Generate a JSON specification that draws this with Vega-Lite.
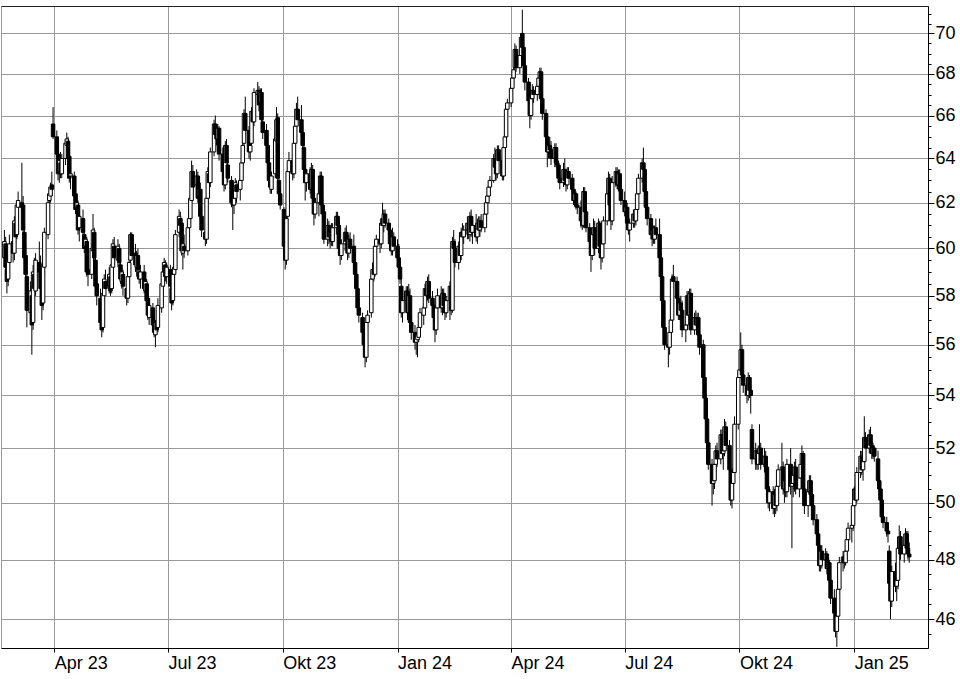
{
"$schema":"https://vega.github.io/schema/vega-lite/v6.json",
"width":927,"height":642,
"autosize":{"type":"none"},
"padding":{"left":1,"top":6,"right":32,"bottom":31},
"background":"white",
"config":{"view":{"stroke":"#999","strokeWidth":1},"font":"Liberation Sans"},
"resolve":{"axis":{"x":"independent"}},
"data":{"values":[
{"d":"2023-02-20","o":59.6,"h":60.8,"l":59.2,"c":60.3},
{"d":"2023-02-21","o":60.2,"h":60.5,"l":58.9,"c":59.2},
{"d":"2023-02-22","o":59.1,"h":59.4,"l":58.1,"c":58.6},
{"d":"2023-02-23","o":58.7,"h":59.8,"l":58.4,"c":59.5},
{"d":"2023-02-24","o":59.4,"h":60.6,"l":59.0,"c":60.2},
{"d":"2023-02-27","o":60.3,"h":60.9,"l":59.4,"c":59.8},
{"d":"2023-02-28","o":59.8,"h":61.4,"l":59.5,"c":61.2},
{"d":"2023-03-01","o":61.1,"h":61.8,"l":60.2,"c":60.5},
{"d":"2023-03-02","o":60.6,"h":62.1,"l":60.4,"c":61.9},
{"d":"2023-03-03","o":61.8,"h":62.5,"l":61.2,"c":62.1},
{"d":"2023-03-06","o":62.0,"h":63.8,"l":61.6,"c":61.8},
{"d":"2023-03-07","o":61.9,"h":62.3,"l":60.6,"c":60.8},
{"d":"2023-03-08","o":60.7,"h":61.0,"l":59.4,"c":59.6},
{"d":"2023-03-09","o":59.7,"h":60.2,"l":58.6,"c":58.9},
{"d":"2023-03-10","o":58.8,"h":59.1,"l":56.7,"c":57.4},
{"d":"2023-03-13","o":57.3,"h":58.6,"l":56.9,"c":58.2},
{"d":"2023-03-14","o":58.0,"h":58.4,"l":55.6,"c":56.8},
{"d":"2023-03-15","o":56.9,"h":59.3,"l":56.6,"c":59.0},
{"d":"2023-03-16","o":58.9,"h":59.6,"l":57.9,"c":58.3},
{"d":"2023-03-17","o":58.2,"h":59.8,"l":58.0,"c":59.5},
{"d":"2023-03-20","o":59.4,"h":60.3,"l":58.6,"c":59.0},
{"d":"2023-03-21","o":59.1,"h":59.7,"l":58.0,"c":58.3},
{"d":"2023-03-22","o":58.4,"h":58.9,"l":57.0,"c":57.6},
{"d":"2023-03-23","o":57.7,"h":59.6,"l":57.4,"c":59.3},
{"d":"2023-03-24","o":59.2,"h":60.9,"l":58.8,"c":60.7},
{"d":"2023-03-27","o":60.6,"h":62.2,"l":60.4,"c":62.0},
{"d":"2023-03-28","o":62.1,"h":62.7,"l":61.7,"c":62.4},
{"d":"2023-03-29","o":62.3,"h":62.9,"l":62.0,"c":62.7},
{"d":"2023-03-30","o":62.8,"h":63.4,"l":62.3,"c":62.6},
{"d":"2023-03-31","o":65.6,"h":66.4,"l":64.9,"c":65.0},
{"d":"2023-04-03","o":65.0,"h":65.3,"l":64.0,"c":64.2},
{"d":"2023-04-04","o":64.2,"h":64.6,"l":63.0,"c":63.3},
{"d":"2023-04-05","o":63.4,"h":64.1,"l":62.9,"c":63.9},
{"d":"2023-04-06","o":63.8,"h":64.3,"l":63.1,"c":63.3},
{"d":"2023-04-07","o":63.3,"h":64.2,"l":63.1,"c":64.0},
{"d":"2023-04-10","o":64.0,"h":64.9,"l":63.7,"c":64.7},
{"d":"2023-04-11","o":64.6,"h":65.2,"l":64.2,"c":64.9},
{"d":"2023-04-12","o":64.8,"h":65.0,"l":63.8,"c":64.0},
{"d":"2023-04-13","o":64.1,"h":64.4,"l":62.9,"c":63.1},
{"d":"2023-04-14","o":63.2,"h":63.6,"l":62.6,"c":63.3},
{"d":"2023-04-17","o":63.2,"h":63.4,"l":62.1,"c":62.3},
{"d":"2023-04-18","o":62.4,"h":62.9,"l":61.5,"c":61.7},
{"d":"2023-04-19","o":61.8,"h":62.3,"l":61.3,"c":62.0},
{"d":"2023-04-20","o":61.9,"h":62.1,"l":60.6,"c":60.8},
{"d":"2023-04-21","o":60.9,"h":61.6,"l":60.3,"c":61.4},
{"d":"2023-04-24","o":61.3,"h":61.7,"l":60.5,"c":60.7},
{"d":"2023-04-25","o":60.6,"h":61.0,"l":59.8,"c":60.0},
{"d":"2023-04-26","o":60.1,"h":60.6,"l":59.4,"c":60.4},
{"d":"2023-04-27","o":60.3,"h":60.5,"l":58.8,"c":59.0},
{"d":"2023-04-28","o":59.1,"h":59.5,"l":58.4,"c":58.9},
{"d":"2023-05-01","o":58.9,"h":60.2,"l":58.7,"c":60.0},
{"d":"2023-05-02","o":59.9,"h":61.5,"l":59.5,"c":60.8},
{"d":"2023-05-03","o":60.7,"h":60.9,"l":59.4,"c":59.6},
{"d":"2023-05-04","o":59.5,"h":59.8,"l":58.2,"c":58.4},
{"d":"2023-05-05","o":58.5,"h":58.8,"l":57.6,"c":58.0},
{"d":"2023-05-08","o":57.9,"h":58.3,"l":56.8,"c":56.9},
{"d":"2023-05-09","o":56.9,"h":57.3,"l":56.3,"c":56.6},
{"d":"2023-05-10","o":56.7,"h":58.3,"l":56.5,"c":58.1},
{"d":"2023-05-11","o":58.0,"h":58.9,"l":57.8,"c":58.7},
{"d":"2023-05-12","o":58.6,"h":59.1,"l":58.0,"c":58.3},
{"d":"2023-05-15","o":58.4,"h":59.2,"l":58.1,"c":58.9},
{"d":"2023-05-16","o":58.8,"h":59.0,"l":58.0,"c":58.2},
{"d":"2023-05-17","o":58.3,"h":59.5,"l":58.1,"c":59.3},
{"d":"2023-05-18","o":59.2,"h":60.4,"l":59.0,"c":60.2},
{"d":"2023-05-19","o":60.1,"h":60.5,"l":59.3,"c":59.6},
{"d":"2023-05-22","o":59.5,"h":60.4,"l":59.2,"c":60.1},
{"d":"2023-05-23","o":60.0,"h":60.2,"l":59.2,"c":59.4},
{"d":"2023-05-24","o":59.3,"h":59.5,"l":58.5,"c":58.7},
{"d":"2023-05-25","o":58.6,"h":59.2,"l":58.3,"c":59.0},
{"d":"2023-05-26","o":58.9,"h":59.1,"l":58.0,"c":58.4},
{"d":"2023-05-29","o":58.3,"h":58.5,"l":57.6,"c":57.9},
{"d":"2023-05-30","o":57.9,"h":59.0,"l":57.7,"c":58.8},
{"d":"2023-05-31","o":58.8,"h":59.6,"l":58.5,"c":59.4},
{"d":"2023-06-01","o":59.5,"h":60.7,"l":59.4,"c":60.6},
{"d":"2023-06-02","o":60.6,"h":60.7,"l":59.5,"c":59.7},
{"d":"2023-06-05","o":59.8,"h":60.2,"l":59.0,"c":59.3},
{"d":"2023-06-06","o":59.2,"h":59.9,"l":58.8,"c":59.7},
{"d":"2023-06-07","o":59.7,"h":60.0,"l":58.9,"c":59.1},
{"d":"2023-06-08","o":59.0,"h":59.4,"l":58.5,"c":58.7},
{"d":"2023-06-09","o":58.7,"h":59.3,"l":58.3,"c":59.0},
{"d":"2023-06-12","o":59.0,"h":59.3,"l":58.1,"c":58.3},
{"d":"2023-06-13","o":58.2,"h":58.8,"l":57.8,"c":58.6},
{"d":"2023-06-14","o":58.5,"h":58.7,"l":57.6,"c":57.8},
{"d":"2023-06-15","o":57.9,"h":58.2,"l":57.0,"c":57.2},
{"d":"2023-06-16","o":57.1,"h":57.9,"l":56.8,"c":57.6},
{"d":"2023-06-19","o":57.5,"h":57.7,"l":56.6,"c":56.8},
{"d":"2023-06-20","o":56.8,"h":57.2,"l":56.3,"c":56.5},
{"d":"2023-06-21","o":56.4,"h":57.0,"l":55.9,"c":56.9},
{"d":"2023-06-22","o":56.9,"h":57.4,"l":56.4,"c":56.6},
{"d":"2023-06-23","o":56.7,"h":57.9,"l":56.5,"c":57.6},
{"d":"2023-06-26","o":57.5,"h":58.7,"l":57.3,"c":58.5},
{"d":"2023-06-27","o":58.4,"h":59.2,"l":58.0,"c":59.0},
{"d":"2023-06-28","o":59.0,"h":59.6,"l":58.6,"c":59.4},
{"d":"2023-06-29","o":59.3,"h":59.5,"l":58.6,"c":58.8},
{"d":"2023-06-30","o":58.8,"h":59.4,"l":58.5,"c":59.2},
{"d":"2023-07-03","o":59.1,"h":59.3,"l":58.2,"c":58.4},
{"d":"2023-07-04","o":58.3,"h":58.5,"l":57.4,"c":57.7},
{"d":"2023-07-05","o":57.8,"h":59.1,"l":57.6,"c":58.9},
{"d":"2023-07-06","o":58.9,"h":59.4,"l":58.4,"c":59.2},
{"d":"2023-07-07","o":59.1,"h":60.8,"l":58.9,"c":60.6},
{"d":"2023-07-10","o":60.7,"h":61.7,"l":60.5,"c":61.4},
{"d":"2023-07-11","o":61.3,"h":61.6,"l":60.6,"c":61.0},
{"d":"2023-07-12","o":61.1,"h":61.3,"l":59.7,"c":59.9},
{"d":"2023-07-13","o":59.8,"h":60.4,"l":59.1,"c":60.2},
{"d":"2023-07-14","o":60.1,"h":60.6,"l":59.6,"c":59.9},
{"d":"2023-07-17","o":59.9,"h":61.1,"l":59.7,"c":60.9},
{"d":"2023-07-18","o":60.9,"h":61.5,"l":60.5,"c":61.3},
{"d":"2023-07-19","o":61.3,"h":62.4,"l":61.1,"c":62.2},
{"d":"2023-07-20","o":62.1,"h":63.9,"l":61.9,"c":63.4},
{"d":"2023-07-21","o":63.4,"h":63.7,"l":62.5,"c":62.7},
{"d":"2023-07-24","o":62.8,"h":63.5,"l":62.3,"c":63.2},
{"d":"2023-07-25","o":63.2,"h":63.4,"l":62.0,"c":62.2},
{"d":"2023-07-26","o":62.3,"h":62.8,"l":61.6,"c":62.6},
{"d":"2023-07-27","o":62.6,"h":62.9,"l":61.2,"c":61.4},
{"d":"2023-07-28","o":61.4,"h":61.8,"l":60.5,"c":60.8},
{"d":"2023-07-31","o":60.7,"h":61.0,"l":60.1,"c":60.4},
{"d":"2023-08-01","o":60.4,"h":62.4,"l":60.2,"c":62.2},
{"d":"2023-08-02","o":62.2,"h":63.6,"l":62.0,"c":63.4},
{"d":"2023-08-03","o":63.3,"h":63.6,"l":62.6,"c":62.9},
{"d":"2023-08-04","o":62.9,"h":64.5,"l":62.7,"c":64.3},
{"d":"2023-08-07","o":64.3,"h":65.8,"l":64.1,"c":65.6},
{"d":"2023-08-08","o":65.6,"h":66.0,"l":64.9,"c":65.1},
{"d":"2023-08-09","o":65.1,"h":65.5,"l":64.6,"c":64.9},
{"d":"2023-08-10","o":64.9,"h":65.6,"l":64.4,"c":65.4},
{"d":"2023-08-11","o":65.4,"h":65.5,"l":63.9,"c":64.2},
{"d":"2023-08-14","o":64.2,"h":64.5,"l":63.2,"c":63.4},
{"d":"2023-08-15","o":63.4,"h":63.7,"l":62.5,"c":62.8},
{"d":"2023-08-16","o":62.8,"h":64.8,"l":62.6,"c":64.6},
{"d":"2023-08-17","o":64.6,"h":64.9,"l":63.6,"c":63.8},
{"d":"2023-08-18","o":63.7,"h":63.9,"l":62.9,"c":63.1},
{"d":"2023-08-21","o":63.0,"h":63.2,"l":61.8,"c":62.0},
{"d":"2023-08-22","o":62.0,"h":62.3,"l":60.8,"c":61.9},
{"d":"2023-08-23","o":61.9,"h":62.4,"l":61.5,"c":62.2},
{"d":"2023-08-24","o":62.2,"h":63.1,"l":61.9,"c":62.9},
{"d":"2023-08-25","o":62.8,"h":63.0,"l":62.0,"c":62.5},
{"d":"2023-08-28","o":62.6,"h":63.2,"l":62.1,"c":63.0},
{"d":"2023-08-29","o":63.0,"h":64.1,"l":62.8,"c":63.8},
{"d":"2023-08-30","o":63.8,"h":64.8,"l":63.5,"c":64.6},
{"d":"2023-08-31","o":64.7,"h":66.3,"l":64.5,"c":66.1},
{"d":"2023-09-01","o":66.1,"h":66.9,"l":65.1,"c":65.3},
{"d":"2023-09-04","o":65.3,"h":65.5,"l":64.0,"c":64.3},
{"d":"2023-09-05","o":64.3,"h":64.8,"l":63.9,"c":64.6},
{"d":"2023-09-06","o":64.7,"h":66.4,"l":64.5,"c":66.2},
{"d":"2023-09-07","o":66.2,"h":66.8,"l":65.4,"c":65.7},
{"d":"2023-09-08","o":65.7,"h":67.3,"l":65.5,"c":67.1},
{"d":"2023-09-11","o":67.0,"h":67.6,"l":66.6,"c":67.2},
{"d":"2023-09-12","o":67.2,"h":67.4,"l":66.2,"c":66.5},
{"d":"2023-09-13","o":66.6,"h":67.3,"l":66.3,"c":67.1},
{"d":"2023-09-14","o":67.1,"h":67.3,"l":65.6,"c":65.8},
{"d":"2023-09-15","o":65.7,"h":66.1,"l":64.9,"c":65.2},
{"d":"2023-09-18","o":65.3,"h":65.6,"l":64.4,"c":64.6},
{"d":"2023-09-19","o":64.6,"h":64.9,"l":63.6,"c":63.8},
{"d":"2023-09-20","o":63.8,"h":64.1,"l":62.8,"c":63.0},
{"d":"2023-09-21","o":63.0,"h":63.3,"l":62.4,"c":62.7},
{"d":"2023-09-22","o":62.6,"h":63.4,"l":62.4,"c":63.2},
{"d":"2023-09-25","o":63.3,"h":65.2,"l":63.1,"c":64.9},
{"d":"2023-09-26","o":64.8,"h":66.4,"l":64.5,"c":65.8},
{"d":"2023-09-27","o":65.9,"h":66.1,"l":62.9,"c":63.1},
{"d":"2023-09-28","o":63.0,"h":63.2,"l":62.1,"c":62.4},
{"d":"2023-09-29","o":62.4,"h":62.7,"l":61.7,"c":61.9},
{"d":"2023-10-02","o":61.7,"h":61.8,"l":59.9,"c":60.1},
{"d":"2023-10-03","o":60.1,"h":60.3,"l":59.1,"c":59.5},
{"d":"2023-10-04","o":59.5,"h":61.6,"l":59.3,"c":61.3},
{"d":"2023-10-05","o":61.4,"h":63.6,"l":61.2,"c":63.4},
{"d":"2023-10-06","o":63.4,"h":64.3,"l":62.0,"c":63.9},
{"d":"2023-10-09","o":63.9,"h":64.2,"l":63.0,"c":63.3},
{"d":"2023-10-10","o":63.3,"h":64.9,"l":63.1,"c":64.7},
{"d":"2023-10-11","o":64.7,"h":65.7,"l":64.4,"c":65.5},
{"d":"2023-10-12","o":65.5,"h":66.6,"l":65.2,"c":66.3},
{"d":"2023-10-13","o":66.3,"h":66.9,"l":65.5,"c":65.8},
{"d":"2023-10-16","o":65.8,"h":66.5,"l":65.0,"c":65.2},
{"d":"2023-10-17","o":65.2,"h":65.5,"l":64.4,"c":64.6},
{"d":"2023-10-18","o":64.5,"h":64.7,"l":63.3,"c":63.5},
{"d":"2023-10-19","o":63.5,"h":63.7,"l":62.1,"c":62.9},
{"d":"2023-10-20","o":62.9,"h":63.5,"l":62.5,"c":63.3},
{"d":"2023-10-23","o":63.3,"h":63.6,"l":62.4,"c":62.6},
{"d":"2023-10-24","o":62.6,"h":63.8,"l":62.4,"c":63.5},
{"d":"2023-10-25","o":63.5,"h":63.7,"l":62.0,"c":62.2},
{"d":"2023-10-26","o":62.2,"h":62.5,"l":61.0,"c":61.5},
{"d":"2023-10-27","o":61.5,"h":62.2,"l":61.3,"c":62.0},
{"d":"2023-10-30","o":62.0,"h":62.6,"l":61.4,"c":62.4},
{"d":"2023-10-31","o":62.4,"h":63.4,"l":62.1,"c":63.2},
{"d":"2023-11-01","o":63.2,"h":63.4,"l":61.7,"c":61.9},
{"d":"2023-11-02","o":61.9,"h":62.2,"l":61.2,"c":61.5},
{"d":"2023-11-03","o":61.6,"h":61.8,"l":60.2,"c":60.4},
{"d":"2023-11-06","o":60.4,"h":61.3,"l":60.1,"c":61.0},
{"d":"2023-11-07","o":61.0,"h":61.2,"l":60.2,"c":60.5},
{"d":"2023-11-08","o":60.5,"h":60.9,"l":60.0,"c":60.7},
{"d":"2023-11-09","o":60.8,"h":61.1,"l":60.1,"c":60.3},
{"d":"2023-11-10","o":60.3,"h":61.1,"l":60.1,"c":60.9},
{"d":"2023-11-13","o":60.9,"h":61.6,"l":60.6,"c":61.4},
{"d":"2023-11-14","o":61.4,"h":61.6,"l":60.8,"c":61.0},
{"d":"2023-11-15","o":61.0,"h":61.2,"l":59.8,"c":60.0},
{"d":"2023-11-16","o":60.0,"h":60.3,"l":59.3,"c":59.7},
{"d":"2023-11-17","o":59.7,"h":60.4,"l":59.5,"c":60.2},
{"d":"2023-11-20","o":60.2,"h":60.9,"l":59.9,"c":60.7},
{"d":"2023-11-21","o":60.7,"h":61.0,"l":60.1,"c":60.3},
{"d":"2023-11-22","o":60.3,"h":60.5,"l":59.5,"c":59.8},
{"d":"2023-11-23","o":59.8,"h":60.6,"l":59.6,"c":60.4},
{"d":"2023-11-24","o":60.4,"h":60.7,"l":59.8,"c":60.0},
{"d":"2023-11-27","o":60.1,"h":60.6,"l":59.2,"c":59.4},
{"d":"2023-11-28","o":59.4,"h":59.7,"l":58.7,"c":58.9},
{"d":"2023-11-29","o":58.9,"h":59.1,"l":58.0,"c":58.3},
{"d":"2023-11-30","o":58.3,"h":58.6,"l":57.3,"c":57.5},
{"d":"2023-12-01","o":57.5,"h":57.9,"l":56.9,"c":57.2},
{"d":"2023-12-04","o":57.1,"h":57.3,"l":56.3,"c":56.5},
{"d":"2023-12-05","o":56.5,"h":56.8,"l":55.8,"c":56.0},
{"d":"2023-12-06","o":56.0,"h":56.4,"l":55.1,"c":55.5},
{"d":"2023-12-07","o":55.5,"h":57.1,"l":55.3,"c":56.9},
{"d":"2023-12-08","o":56.9,"h":57.4,"l":56.4,"c":57.2},
{"d":"2023-12-11","o":57.3,"h":58.9,"l":57.1,"c":58.7},
{"d":"2023-12-12","o":58.7,"h":59.4,"l":58.3,"c":59.1},
{"d":"2023-12-13","o":59.1,"h":59.7,"l":58.6,"c":58.9},
{"d":"2023-12-14","o":58.9,"h":60.3,"l":58.8,"c":60.1},
{"d":"2023-12-15","o":60.1,"h":60.6,"l":59.6,"c":60.4},
{"d":"2023-12-18","o":60.4,"h":60.7,"l":59.8,"c":60.2},
{"d":"2023-12-19","o":60.2,"h":61.3,"l":60.0,"c":61.1},
{"d":"2023-12-20","o":61.3,"h":62.0,"l":60.8,"c":61.0},
{"d":"2023-12-21","o":61.0,"h":61.7,"l":60.7,"c":61.5},
{"d":"2023-12-22","o":61.5,"h":61.7,"l":60.9,"c":61.1},
{"d":"2023-12-25","o":61.1,"h":61.3,"l":60.6,"c":60.8},
{"d":"2023-12-26","o":60.8,"h":61.0,"l":60.0,"c":60.2},
{"d":"2023-12-27","o":60.2,"h":60.5,"l":59.7,"c":59.9},
{"d":"2023-12-28","o":59.9,"h":60.9,"l":59.7,"c":60.5},
{"d":"2023-12-29","o":60.5,"h":60.7,"l":59.9,"c":60.1},
{"d":"2024-01-01","o":60.1,"h":60.4,"l":59.4,"c":59.6},
{"d":"2024-01-02","o":59.6,"h":60.2,"l":59.0,"c":59.2},
{"d":"2024-01-03","o":59.2,"h":59.4,"l":58.5,"c":58.7},
{"d":"2024-01-04","o":58.4,"h":58.7,"l":57.1,"c":57.3},
{"d":"2024-01-05","o":57.3,"h":58.1,"l":56.9,"c":57.8},
{"d":"2024-01-08","o":57.8,"h":58.4,"l":57.4,"c":58.2},
{"d":"2024-01-09","o":58.2,"h":58.4,"l":57.0,"c":57.3},
{"d":"2024-01-10","o":57.3,"h":58.5,"l":57.1,"c":58.0},
{"d":"2024-01-11","o":58.0,"h":58.3,"l":56.7,"c":56.9},
{"d":"2024-01-12","o":56.9,"h":57.2,"l":56.2,"c":56.5},
{"d":"2024-01-15","o":56.5,"h":56.8,"l":55.8,"c":56.1},
{"d":"2024-01-16","o":56.1,"h":56.5,"l":55.6,"c":56.3},
{"d":"2024-01-17","o":56.2,"h":56.5,"l":55.5,"c":56.4},
{"d":"2024-01-18","o":56.3,"h":56.9,"l":56.1,"c":56.7},
{"d":"2024-01-19","o":56.7,"h":57.5,"l":56.5,"c":57.3},
{"d":"2024-01-22","o":57.2,"h":57.7,"l":56.8,"c":57.5},
{"d":"2024-01-23","o":57.5,"h":58.5,"l":57.3,"c":58.3},
{"d":"2024-01-24","o":58.3,"h":58.6,"l":57.8,"c":58.0},
{"d":"2024-01-25","o":58.0,"h":58.8,"l":57.8,"c":58.6},
{"d":"2024-01-26","o":58.6,"h":58.9,"l":57.7,"c":57.9},
{"d":"2024-01-29","o":57.9,"h":58.2,"l":57.4,"c":57.6},
{"d":"2024-01-30","o":57.6,"h":57.8,"l":56.9,"c":57.1},
{"d":"2024-01-31","o":57.1,"h":57.4,"l":56.1,"c":56.6},
{"d":"2024-02-01","o":56.6,"h":57.7,"l":56.4,"c":57.5},
{"d":"2024-02-02","o":57.5,"h":58.3,"l":57.2,"c":58.0},
{"d":"2024-02-05","o":58.0,"h":58.4,"l":57.3,"c":57.5},
{"d":"2024-02-06","o":57.5,"h":58.3,"l":57.2,"c":58.1},
{"d":"2024-02-07","o":58.1,"h":58.3,"l":57.3,"c":57.6},
{"d":"2024-02-08","o":57.6,"h":58.0,"l":57.0,"c":57.3},
{"d":"2024-02-09","o":57.3,"h":58.0,"l":57.1,"c":57.8},
{"d":"2024-02-12","o":57.8,"h":58.6,"l":57.0,"c":58.4},
{"d":"2024-02-13","o":58.4,"h":58.7,"l":57.2,"c":57.4},
{"d":"2024-02-14","o":57.4,"h":60.5,"l":57.3,"c":60.3},
{"d":"2024-02-15","o":60.3,"h":60.8,"l":59.8,"c":60.0},
{"d":"2024-02-16","o":60.0,"h":60.4,"l":59.2,"c":59.4},
{"d":"2024-02-19","o":59.4,"h":60.3,"l":59.1,"c":60.1},
{"d":"2024-02-20","o":60.1,"h":60.6,"l":59.5,"c":59.7},
{"d":"2024-02-21","o":59.7,"h":60.9,"l":59.5,"c":60.7},
{"d":"2024-02-22","o":60.7,"h":61.1,"l":60.3,"c":60.5},
{"d":"2024-02-23","o":60.5,"h":61.0,"l":60.2,"c":60.8},
{"d":"2024-02-26","o":60.8,"h":61.4,"l":60.4,"c":61.1},
{"d":"2024-02-27","o":61.1,"h":61.3,"l":60.4,"c":60.6},
{"d":"2024-02-28","o":60.6,"h":61.6,"l":60.3,"c":61.4},
{"d":"2024-02-29","o":61.4,"h":61.7,"l":60.5,"c":60.7},
{"d":"2024-03-01","o":60.7,"h":61.2,"l":60.2,"c":61.0},
{"d":"2024-03-04","o":61.0,"h":61.5,"l":60.3,"c":60.5},
{"d":"2024-03-05","o":60.5,"h":61.3,"l":60.2,"c":61.1},
{"d":"2024-03-06","o":61.1,"h":61.4,"l":60.6,"c":60.8},
{"d":"2024-03-07","o":60.8,"h":61.4,"l":60.5,"c":61.2},
{"d":"2024-03-08","o":61.2,"h":61.5,"l":60.7,"c":60.9},
{"d":"2024-03-11","o":60.9,"h":61.7,"l":60.7,"c":61.5},
{"d":"2024-03-12","o":61.5,"h":62.2,"l":61.3,"c":62.0},
{"d":"2024-03-13","o":62.0,"h":62.5,"l":61.7,"c":62.3},
{"d":"2024-03-14","o":62.3,"h":62.9,"l":62.0,"c":62.7},
{"d":"2024-03-15","o":62.7,"h":63.2,"l":62.4,"c":63.0},
{"d":"2024-03-18","o":63.0,"h":64.2,"l":62.9,"c":64.0},
{"d":"2024-03-19","o":64.0,"h":64.5,"l":63.4,"c":63.6},
{"d":"2024-03-20","o":63.6,"h":64.0,"l":63.0,"c":63.3},
{"d":"2024-03-21","o":63.3,"h":64.6,"l":63.1,"c":64.4},
{"d":"2024-03-22","o":64.4,"h":64.6,"l":63.6,"c":63.9},
{"d":"2024-03-25","o":63.9,"h":64.1,"l":63.0,"c":63.2},
{"d":"2024-03-26","o":63.2,"h":64.7,"l":63.0,"c":64.5},
{"d":"2024-03-27","o":64.5,"h":65.2,"l":64.3,"c":65.0},
{"d":"2024-03-28","o":65.0,"h":66.5,"l":64.8,"c":66.3},
{"d":"2024-03-29","o":66.3,"h":66.8,"l":66.0,"c":66.6},
{"d":"2024-04-01","o":66.6,"h":67.5,"l":66.4,"c":67.3},
{"d":"2024-04-02","o":67.3,"h":68.0,"l":67.0,"c":67.8},
{"d":"2024-04-03","o":67.8,"h":68.3,"l":67.4,"c":68.2},
{"d":"2024-04-04","o":68.3,"h":69.5,"l":68.1,"c":69.2},
{"d":"2024-04-05","o":69.2,"h":69.4,"l":68.1,"c":68.3},
{"d":"2024-04-08","o":68.3,"h":69.2,"l":68.0,"c":68.9},
{"d":"2024-04-09","o":68.9,"h":70.0,"l":68.7,"c":69.8},
{"d":"2024-04-10","o":70.0,"h":71.2,"l":69.1,"c":69.3},
{"d":"2024-04-11","o":69.3,"h":69.5,"l":68.2,"c":68.4},
{"d":"2024-04-12","o":68.4,"h":68.6,"l":67.2,"c":67.6},
{"d":"2024-04-15","o":67.6,"h":67.8,"l":66.5,"c":66.7},
{"d":"2024-04-16","o":66.7,"h":66.9,"l":65.4,"c":66.0},
{"d":"2024-04-17","o":66.0,"h":67.0,"l":65.8,"c":66.8},
{"d":"2024-04-18","o":66.8,"h":67.5,"l":66.5,"c":67.2},
{"d":"2024-04-19","o":67.2,"h":67.4,"l":66.6,"c":67.0},
{"d":"2024-04-22","o":67.0,"h":67.6,"l":66.7,"c":67.4},
{"d":"2024-04-23","o":67.4,"h":68.0,"l":67.1,"c":67.8},
{"d":"2024-04-24","o":67.8,"h":68.3,"l":67.3,"c":68.1},
{"d":"2024-04-25","o":68.1,"h":68.3,"l":66.5,"c":66.8},
{"d":"2024-04-26","o":66.8,"h":67.1,"l":65.8,"c":66.1},
{"d":"2024-04-29","o":66.1,"h":66.3,"l":64.8,"c":65.0},
{"d":"2024-04-30","o":65.0,"h":65.3,"l":63.6,"c":64.3},
{"d":"2024-05-01","o":64.3,"h":64.9,"l":64.0,"c":64.6},
{"d":"2024-05-02","o":64.6,"h":65.0,"l":64.2,"c":64.4},
{"d":"2024-05-03","o":64.4,"h":64.8,"l":63.7,"c":64.0},
{"d":"2024-05-06","o":64.0,"h":64.7,"l":63.6,"c":64.5},
{"d":"2024-05-07","o":64.5,"h":64.7,"l":63.6,"c":63.8},
{"d":"2024-05-08","o":63.8,"h":64.2,"l":63.4,"c":63.7},
{"d":"2024-05-09","o":63.7,"h":63.9,"l":62.9,"c":63.1},
{"d":"2024-05-10","o":63.1,"h":63.3,"l":62.6,"c":62.9},
{"d":"2024-05-13","o":62.9,"h":63.8,"l":62.7,"c":63.5},
{"d":"2024-05-14","o":63.5,"h":64.0,"l":62.8,"c":63.0},
{"d":"2024-05-15","o":63.0,"h":63.3,"l":62.5,"c":62.8},
{"d":"2024-05-16","o":62.8,"h":63.6,"l":62.6,"c":63.4},
{"d":"2024-05-17","o":63.4,"h":63.6,"l":62.9,"c":63.1},
{"d":"2024-05-20","o":63.1,"h":63.3,"l":62.4,"c":62.6},
{"d":"2024-05-21","o":62.6,"h":62.8,"l":61.9,"c":62.1},
{"d":"2024-05-22","o":62.1,"h":62.6,"l":61.8,"c":62.4},
{"d":"2024-05-23","o":62.4,"h":62.5,"l":61.7,"c":61.9},
{"d":"2024-05-24","o":61.9,"h":62.2,"l":61.5,"c":61.8},
{"d":"2024-05-27","o":61.8,"h":62.1,"l":60.9,"c":61.2},
{"d":"2024-05-28","o":61.2,"h":61.4,"l":60.8,"c":61.0},
{"d":"2024-05-29","o":61.0,"h":62.7,"l":60.9,"c":62.5},
{"d":"2024-05-30","o":62.5,"h":62.7,"l":61.4,"c":61.6},
{"d":"2024-05-31","o":61.6,"h":61.9,"l":60.7,"c":60.9},
{"d":"2024-06-03","o":60.9,"h":61.1,"l":60.0,"c":60.3},
{"d":"2024-06-04","o":60.3,"h":60.5,"l":59.0,"c":59.7},
{"d":"2024-06-05","o":59.7,"h":60.8,"l":59.5,"c":60.6},
{"d":"2024-06-06","o":60.6,"h":61.3,"l":60.3,"c":60.9},
{"d":"2024-06-07","o":60.9,"h":61.2,"l":59.7,"c":60.0},
{"d":"2024-06-10","o":60.0,"h":61.3,"l":59.8,"c":61.1},
{"d":"2024-06-11","o":61.1,"h":61.2,"l":59.9,"c":60.1},
{"d":"2024-06-12","o":60.1,"h":60.3,"l":59.1,"c":59.6},
{"d":"2024-06-13","o":59.6,"h":60.4,"l":59.4,"c":60.2},
{"d":"2024-06-14","o":60.2,"h":61.4,"l":60.0,"c":61.2},
{"d":"2024-06-17","o":61.2,"h":62.6,"l":61.0,"c":62.4},
{"d":"2024-06-18","o":62.4,"h":63.4,"l":61.8,"c":63.1},
{"d":"2024-06-19","o":63.1,"h":63.3,"l":61.7,"c":61.9},
{"d":"2024-06-20","o":61.9,"h":62.1,"l":60.8,"c":61.2},
{"d":"2024-06-21","o":61.2,"h":63.2,"l":61.0,"c":62.9},
{"d":"2024-06-24","o":62.9,"h":63.6,"l":62.7,"c":63.4},
{"d":"2024-06-25","o":63.4,"h":63.6,"l":62.6,"c":62.8},
{"d":"2024-06-26","o":62.8,"h":63.5,"l":62.5,"c":63.3},
{"d":"2024-06-27","o":63.3,"h":63.5,"l":62.4,"c":62.6},
{"d":"2024-06-28","o":62.6,"h":62.8,"l":61.9,"c":62.1},
{"d":"2024-07-01","o":62.1,"h":62.5,"l":61.4,"c":61.6},
{"d":"2024-07-02","o":61.6,"h":62.0,"l":61.2,"c":61.8},
{"d":"2024-07-03","o":61.8,"h":62.0,"l":60.9,"c":61.1},
{"d":"2024-07-04","o":61.1,"h":61.4,"l":60.6,"c":60.8},
{"d":"2024-07-05","o":60.8,"h":61.3,"l":60.3,"c":61.1},
{"d":"2024-07-08","o":61.1,"h":61.7,"l":60.9,"c":61.5},
{"d":"2024-07-09","o":61.5,"h":61.7,"l":60.9,"c":61.2},
{"d":"2024-07-10","o":61.2,"h":61.9,"l":61.0,"c":61.7},
{"d":"2024-07-11","o":61.7,"h":62.6,"l":61.5,"c":62.4},
{"d":"2024-07-12","o":62.4,"h":63.3,"l":62.2,"c":63.1},
{"d":"2024-07-15","o":63.1,"h":64.0,"l":62.9,"c":63.8},
{"d":"2024-07-16","o":63.8,"h":64.5,"l":63.3,"c":63.5},
{"d":"2024-07-17","o":63.5,"h":63.7,"l":62.3,"c":62.5},
{"d":"2024-07-18","o":62.5,"h":62.7,"l":61.6,"c":61.8},
{"d":"2024-07-19","o":61.8,"h":62.0,"l":61.0,"c":61.3},
{"d":"2024-07-22","o":61.3,"h":61.5,"l":60.4,"c":60.6},
{"d":"2024-07-23","o":60.6,"h":61.0,"l":60.1,"c":60.8},
{"d":"2024-07-24","o":60.8,"h":61.0,"l":60.2,"c":60.4},
{"d":"2024-07-25","o":60.4,"h":61.0,"l":60.2,"c":60.9},
{"d":"2024-07-26","o":60.9,"h":61.3,"l":60.4,"c":60.6},
{"d":"2024-07-29","o":60.6,"h":61.3,"l":59.4,"c":59.6},
{"d":"2024-07-30","o":59.6,"h":59.8,"l":58.6,"c":58.8},
{"d":"2024-07-31","o":58.8,"h":59.0,"l":57.6,"c":57.8},
{"d":"2024-08-01","o":57.8,"h":58.0,"l":56.5,"c":56.7},
{"d":"2024-08-02","o":56.7,"h":56.9,"l":55.8,"c":56.0},
{"d":"2024-08-05","o":56.0,"h":56.4,"l":55.1,"c":55.9},
{"d":"2024-08-06","o":55.9,"h":56.7,"l":55.6,"c":56.5},
{"d":"2024-08-07","o":56.5,"h":57.2,"l":56.2,"c":57.0},
{"d":"2024-08-08","o":57.0,"h":58.9,"l":56.9,"c":58.7},
{"d":"2024-08-09","o":58.8,"h":59.3,"l":58.3,"c":58.6},
{"d":"2024-08-12","o":58.6,"h":58.8,"l":57.7,"c":57.9},
{"d":"2024-08-13","o":57.9,"h":58.1,"l":57.0,"c":57.2},
{"d":"2024-08-14","o":57.2,"h":57.9,"l":57.0,"c":57.7},
{"d":"2024-08-15","o":57.7,"h":58.0,"l":57.1,"c":57.4},
{"d":"2024-08-16","o":57.4,"h":57.8,"l":56.3,"c":56.6},
{"d":"2024-08-19","o":56.6,"h":57.0,"l":56.1,"c":56.8},
{"d":"2024-08-20","o":56.8,"h":58.2,"l":56.6,"c":58.0},
{"d":"2024-08-21","o":58.0,"h":58.2,"l":57.0,"c":57.2},
{"d":"2024-08-22","o":57.2,"h":58.3,"l":57.0,"c":58.1},
{"d":"2024-08-23","o":58.1,"h":58.3,"l":56.4,"c":56.6},
{"d":"2024-08-26","o":56.6,"h":57.3,"l":56.4,"c":57.1},
{"d":"2024-08-27","o":57.1,"h":57.4,"l":56.6,"c":56.8},
{"d":"2024-08-28","o":56.8,"h":57.3,"l":56.5,"c":57.1},
{"d":"2024-08-29","o":57.1,"h":57.3,"l":56.2,"c":56.4},
{"d":"2024-08-30","o":56.4,"h":56.6,"l":55.6,"c":55.9},
{"d":"2024-09-02","o":56.0,"h":56.2,"l":54.5,"c":54.7},
{"d":"2024-09-03","o":54.7,"h":55.0,"l":53.7,"c":53.9},
{"d":"2024-09-04","o":53.9,"h":54.1,"l":52.9,"c":53.1},
{"d":"2024-09-05","o":53.1,"h":53.4,"l":52.0,"c":52.2},
{"d":"2024-09-06","o":52.2,"h":52.5,"l":51.2,"c":51.4},
{"d":"2024-09-09","o":51.4,"h":51.6,"l":49.9,"c":50.7},
{"d":"2024-09-10","o":50.7,"h":51.0,"l":50.3,"c":50.8},
{"d":"2024-09-11","o":50.8,"h":51.6,"l":50.5,"c":51.4},
{"d":"2024-09-12","o":51.4,"h":52.1,"l":51.1,"c":51.9},
{"d":"2024-09-13","o":51.9,"h":52.2,"l":51.3,"c":51.6},
{"d":"2024-09-16","o":51.6,"h":52.7,"l":51.4,"c":52.5},
{"d":"2024-09-17","o":52.5,"h":52.7,"l":51.6,"c":51.8},
{"d":"2024-09-18","o":51.8,"h":52.2,"l":51.2,"c":51.9},
{"d":"2024-09-19","o":51.9,"h":53.1,"l":51.7,"c":52.8},
{"d":"2024-09-20","o":52.8,"h":53.0,"l":51.9,"c":52.1},
{"d":"2024-09-23","o":52.1,"h":52.3,"l":51.0,"c":51.2},
{"d":"2024-09-24","o":51.2,"h":51.4,"l":49.9,"c":50.1},
{"d":"2024-09-25","o":50.1,"h":50.9,"l":49.8,"c":50.7},
{"d":"2024-09-26","o":50.7,"h":51.3,"l":50.2,"c":51.1},
{"d":"2024-09-27","o":51.1,"h":53.2,"l":50.9,"c":52.9},
{"d":"2024-09-30","o":52.9,"h":54.9,"l":52.7,"c":54.7},
{"d":"2024-10-01","o":54.7,"h":55.2,"l":54.3,"c":55.0},
{"d":"2024-10-02","o":55.0,"h":56.5,"l":54.8,"c":55.8},
{"d":"2024-10-03","o":55.8,"h":56.0,"l":54.6,"c":54.8},
{"d":"2024-10-04","o":54.8,"h":55.0,"l":54.1,"c":54.4},
{"d":"2024-10-07","o":54.4,"h":54.6,"l":53.7,"c":54.0},
{"d":"2024-10-08","o":54.0,"h":54.9,"l":53.8,"c":54.7},
{"d":"2024-10-09","o":54.7,"h":54.8,"l":53.9,"c":54.2},
{"d":"2024-10-10","o":54.2,"h":54.4,"l":53.3,"c":54.0},
{"d":"2024-10-11","o":52.7,"h":52.9,"l":51.4,"c":51.6},
{"d":"2024-10-14","o":51.6,"h":52.2,"l":51.2,"c":51.9},
{"d":"2024-10-15","o":51.9,"h":52.0,"l":51.2,"c":51.4},
{"d":"2024-10-16","o":51.4,"h":52.1,"l":51.2,"c":51.8},
{"d":"2024-10-17","o":51.8,"h":52.9,"l":51.5,"c":52.0},
{"d":"2024-10-18","o":52.0,"h":52.2,"l":51.2,"c":51.4},
{"d":"2024-10-21","o":51.4,"h":52.0,"l":51.1,"c":51.7},
{"d":"2024-10-22","o":51.7,"h":51.9,"l":51.1,"c":51.3},
{"d":"2024-10-23","o":51.3,"h":51.5,"l":50.3,"c":50.5},
{"d":"2024-10-24","o":50.5,"h":50.8,"l":49.8,"c":50.0},
{"d":"2024-10-25","o":50.0,"h":50.6,"l":49.7,"c":50.4},
{"d":"2024-10-28","o":50.4,"h":50.6,"l":49.6,"c":49.8},
{"d":"2024-10-29","o":49.8,"h":50.5,"l":49.5,"c":50.3},
{"d":"2024-10-30","o":50.3,"h":50.5,"l":49.6,"c":49.9},
{"d":"2024-10-31","o":49.9,"h":50.8,"l":49.7,"c":50.6},
{"d":"2024-11-01","o":50.6,"h":51.4,"l":50.4,"c":51.2},
{"d":"2024-11-04","o":51.2,"h":52.2,"l":50.9,"c":51.3},
{"d":"2024-11-05","o":51.3,"h":51.5,"l":50.3,"c":50.5},
{"d":"2024-11-06","o":50.5,"h":51.0,"l":50.0,"c":50.8},
{"d":"2024-11-07","o":50.8,"h":51.1,"l":50.2,"c":50.4},
{"d":"2024-11-08","o":50.4,"h":51.6,"l":50.2,"c":51.4},
{"d":"2024-11-11","o":51.4,"h":52.0,"l":50.3,"c":50.6},
{"d":"2024-11-12","o":50.6,"h":51.0,"l":48.4,"c":50.7},
{"d":"2024-11-13","o":50.7,"h":51.2,"l":50.2,"c":51.0},
{"d":"2024-11-14","o":51.0,"h":51.5,"l":50.4,"c":51.3},
{"d":"2024-11-15","o":51.3,"h":51.6,"l":50.3,"c":50.5},
{"d":"2024-11-18","o":50.5,"h":51.0,"l":50.2,"c":50.9},
{"d":"2024-11-19","o":50.9,"h":51.6,"l":50.6,"c":51.4},
{"d":"2024-11-20","o":51.4,"h":52.1,"l":51.3,"c":51.8},
{"d":"2024-11-21","o":51.8,"h":51.9,"l":50.3,"c":50.5},
{"d":"2024-11-22","o":50.5,"h":50.7,"l":49.6,"c":49.9},
{"d":"2024-11-25","o":49.9,"h":50.6,"l":49.5,"c":50.4},
{"d":"2024-11-26","o":50.4,"h":51.0,"l":50.1,"c":50.8},
{"d":"2024-11-27","o":50.8,"h":51.0,"l":50.1,"c":50.3},
{"d":"2024-11-28","o":50.3,"h":50.5,"l":49.7,"c":49.9},
{"d":"2024-11-29","o":49.9,"h":50.3,"l":49.2,"c":49.4},
{"d":"2024-12-02","o":49.4,"h":49.6,"l":48.7,"c":48.9},
{"d":"2024-12-03","o":48.9,"h":49.2,"l":48.3,"c":48.5},
{"d":"2024-12-04","o":48.5,"h":48.7,"l":47.6,"c":47.8},
{"d":"2024-12-05","o":47.8,"h":48.5,"l":47.6,"c":48.3},
{"d":"2024-12-06","o":48.3,"h":48.5,"l":47.7,"c":48.0},
{"d":"2024-12-09","o":48.0,"h":48.4,"l":47.8,"c":48.2},
{"d":"2024-12-10","o":48.2,"h":48.3,"l":47.5,"c":47.7},
{"d":"2024-12-11","o":47.7,"h":48.0,"l":47.4,"c":47.9},
{"d":"2024-12-12","o":47.9,"h":48.0,"l":47.2,"c":47.3},
{"d":"2024-12-13","o":47.3,"h":47.5,"l":46.5,"c":46.7},
{"d":"2024-12-16","o":46.7,"h":47.0,"l":46.0,"c":46.2},
{"d":"2024-12-17","o":46.2,"h":46.4,"l":45.4,"c":45.6},
{"d":"2024-12-18","o":45.6,"h":46.3,"l":45.1,"c":46.1},
{"d":"2024-12-19","o":46.1,"h":47.2,"l":45.9,"c":47.0},
{"d":"2024-12-20","o":47.0,"h":48.1,"l":46.8,"c":47.9},
{"d":"2024-12-23","o":47.9,"h":48.3,"l":47.6,"c":48.1},
{"d":"2024-12-24","o":48.1,"h":48.3,"l":47.7,"c":47.9},
{"d":"2024-12-25","o":47.9,"h":48.5,"l":47.8,"c":48.3},
{"d":"2024-12-26","o":48.3,"h":48.9,"l":48.0,"c":48.7},
{"d":"2024-12-27","o":48.7,"h":49.3,"l":48.4,"c":49.1},
{"d":"2024-12-30","o":49.1,"h":49.4,"l":48.6,"c":49.2},
{"d":"2024-12-31","o":49.2,"h":50.1,"l":49.0,"c":49.9},
{"d":"2025-01-01","o":49.9,"h":50.6,"l":49.8,"c":50.5},
{"d":"2025-01-02","o":50.5,"h":50.7,"l":49.9,"c":50.1},
{"d":"2025-01-03","o":50.1,"h":51.3,"l":50.0,"c":51.1},
{"d":"2025-01-06","o":51.1,"h":51.9,"l":50.9,"c":51.7},
{"d":"2025-01-07","o":51.7,"h":51.9,"l":51.0,"c":51.2},
{"d":"2025-01-08","o":51.2,"h":51.6,"l":50.8,"c":51.5},
{"d":"2025-01-09","o":51.5,"h":53.2,"l":51.3,"c":52.4},
{"d":"2025-01-10","o":52.4,"h":52.6,"l":51.8,"c":52.0},
{"d":"2025-01-13","o":52.0,"h":52.7,"l":51.8,"c":52.5},
{"d":"2025-01-14","o":52.5,"h":52.8,"l":51.9,"c":52.1},
{"d":"2025-01-15","o":52.1,"h":52.4,"l":51.6,"c":51.8},
{"d":"2025-01-16","o":51.8,"h":52.2,"l":51.6,"c":52.0},
{"d":"2025-01-17","o":52.0,"h":52.1,"l":51.5,"c":51.7},
{"d":"2025-01-20","o":51.6,"h":51.9,"l":50.6,"c":50.8},
{"d":"2025-01-21","o":50.8,"h":51.0,"l":50.3,"c":50.5},
{"d":"2025-01-22","o":50.5,"h":50.7,"l":49.9,"c":50.1},
{"d":"2025-01-23","o":50.1,"h":50.3,"l":49.3,"c":49.5},
{"d":"2025-01-24","o":49.5,"h":49.8,"l":49.1,"c":49.3},
{"d":"2025-01-27","o":49.3,"h":49.5,"l":48.8,"c":49.0},
{"d":"2025-01-28","o":49.0,"h":49.2,"l":48.6,"c":48.9},
{"d":"2025-01-29","o":48.3,"h":48.5,"l":47.0,"c":47.2},
{"d":"2025-01-30","o":47.2,"h":47.4,"l":46.0,"c":46.6},
{"d":"2025-01-31","o":46.6,"h":47.8,"l":46.4,"c":47.6},
{"d":"2025-02-03","o":47.6,"h":47.9,"l":46.9,"c":47.1},
{"d":"2025-02-04","o":47.1,"h":47.5,"l":46.6,"c":47.3},
{"d":"2025-02-05","o":47.3,"h":48.5,"l":47.0,"c":48.4},
{"d":"2025-02-06","o":48.4,"h":49.2,"l":48.0,"c":48.8},
{"d":"2025-02-07","o":48.8,"h":49.0,"l":48.0,"c":48.2},
{"d":"2025-02-10","o":48.2,"h":48.7,"l":47.9,"c":48.5},
{"d":"2025-02-11","o":48.5,"h":49.1,"l":48.3,"c":48.9},
{"d":"2025-02-12","o":48.9,"h":49.0,"l":48.2,"c":48.4},
{"d":"2025-02-13","o":48.4,"h":49.0,"l":48.0,"c":48.2},
{"d":"2025-02-14","o":48.2,"h":48.6,"l":47.9,"c":48.1}
]},
"layer":[
 {"mark":{"type":"rule","color":"black","strokeWidth":1},
  "encoding":{
   "x":{"field":"d","type":"temporal",
    "scale":{"type":"utc","nice":false,"padding":0,"domain":[{"year":2023,"month":2,"date":17,"hours":6,"minutes":43,"utc":true},{"year":2025,"month":3,"date":1,"hours":1,"utc":true}]},
    "axis":{"title":null,"orient":"bottom",
     "values":[{"year":2023,"month":4,"date":1,"utc":true},{"year":2023,"month":7,"date":1,"utc":true},{"year":2023,"month":10,"date":1,"utc":true},{"year":2024,"month":1,"date":1,"utc":true},{"year":2024,"month":4,"date":1,"utc":true},{"year":2024,"month":7,"date":1,"utc":true},{"year":2024,"month":10,"date":1,"utc":true},{"year":2025,"month":1,"date":1,"utc":true}],
     "labelExpr":"replace(utcFormat(datum.value, '%b %y'), 'Oct', 'Okt')",
     "labelAlign":"left","labelFlush":false,"labelOverlap":false,"labelBound":false,
     "labelFont":"Liberation Sans","labelFontSize":18,"labelColor":"black","labelPadding":2,
     "grid":true,"gridColor":"#999","gridWidth":1,
     "tickSize":4,"tickColor":"black","domainColor":"black","domainWidth":1}},
   "y":{"field":"l","type":"quantitative",
    "scale":{"type":"log","domain":[45.06,71.39],"nice":false,"zero":false,"padding":0},
    "axis":{"title":null,"orient":"right",
     "values":[45.5,46,46.5,47,47.5,48,48.5,49,49.5,50,50.5,51,51.5,52,52.5,53,53.5,54,54.5,55,55.5,56,56.5,57,57.5,58,58.5,59,59.5,60,60.5,61,61.5,62,62.5,63,63.5,64,64.5,65,65.5,66,66.5,67,67.5,68,68.5,69,69.5,70,70.5,71],
     "labelExpr":"datum.value % 2 == 0 ? format(datum.value, 'd') : ''",
     "labelOverlap":false,"labelBound":false,"labelFlush":false,
     "labelFont":"Liberation Sans","labelFontSize":18,"labelColor":"black","labelPadding":1,"labelBaseline":"middle",
     "grid":true,"gridColor":"#999","gridWidth":1,
     "gridOpacity":{"condition":{"test":"datum.value % 2 == 0","value":1},"value":0},
     "tickSize":{"condition":{"test":"datum.value % 2 == 0","value":6},"value":3},
     "tickColor":"black","domainColor":"black"}},
   "y2":{"field":"h"}}},
 {"mark":{"type":"bar","size":3.5,"stroke":"black","strokeWidth":1},
  "encoding":{
   "x":{"field":"d","type":"temporal",
    "axis":{"title":null,"orient":"top","labels":false,"ticks":false,"grid":false,"domainColor":"#222","domainWidth":1}},
   "y":{"field":"o","type":"quantitative"},
   "y2":{"field":"c"},
   "fill":{"condition":{"test":"datum.c >= datum.o","value":"white"},"value":"black"}}}
]
}
